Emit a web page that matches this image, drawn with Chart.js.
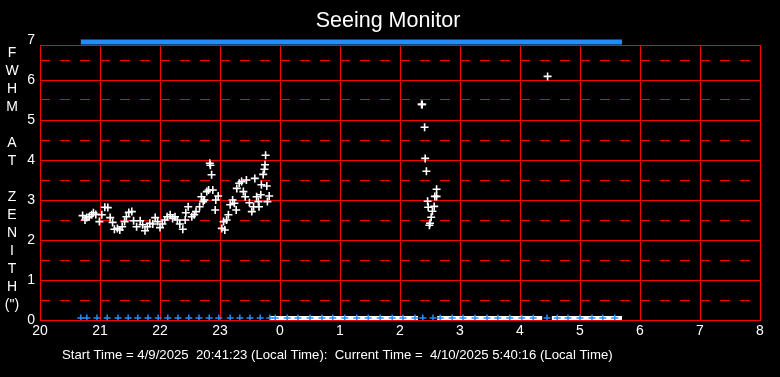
<!DOCTYPE html>
<html>
<head>
  <title>Seeing Monitor</title>
  <script src="https://cdn.jsdelivr.net/npm/chart.js"></script>
  <style>
    body {
      margin: 0;
      background-color: #000;
    }
    .chart-box {
      width: 780px;
      height: 377px;
      position: relative;
    }
  </style>
</head>
<body>
  <div class="chart-box"><canvas id="seeingChart"></canvas></div>

  <script>
    // FWHM readings (hours since midnight of 4/9, >24 = next day)
    const fwhmHours = [
      20.71, 20.75, 20.78, 20.82, 20.86, 20.89, 20.93, 20.99, 21.03, 21.08,
      21.13, 21.17, 21.21, 21.24, 21.29, 21.33, 21.37, 21.41, 21.44, 21.48,
      21.53, 21.56, 21.61, 21.67, 21.71, 21.75, 21.79, 21.83, 21.88, 21.92,
      21.96, 22.00, 22.04, 22.08, 22.12, 22.17, 22.21, 22.25, 22.29, 22.33,
      22.38, 22.42, 22.43, 22.47, 22.53, 22.57, 22.60, 22.66, 22.69, 22.72,
      22.74, 22.78, 22.81, 22.83, 22.84, 22.86, 22.88, 22.92, 22.93, 22.97,
      23.03, 23.06, 23.08, 23.11, 23.14, 23.17, 23.21, 23.24, 23.27, 23.28,
      23.32, 23.36, 23.39, 23.42, 23.44, 23.49, 23.53, 23.56, 23.58, 23.61,
      23.64, 23.65, 23.68, 23.69, 23.72, 23.74, 23.75, 23.76, 23.78, 23.79,
      23.82,
      26.36, 26.37, 26.41, 26.42, 26.44, 26.46, 26.47, 26.49, 26.50, 26.52,
      26.54, 26.57, 26.58, 26.61, 26.61,
      28.46
    ];
    const fwhmValues = [
      2.61, 2.50, 2.56, 2.58, 2.63, 2.68, 2.64, 2.46, 2.63, 2.82,
      2.81, 2.56, 2.44, 2.27, 2.29, 2.25, 2.33, 2.46, 2.58, 2.69,
      2.71, 2.48, 2.33, 2.48, 2.38, 2.23, 2.33, 2.42, 2.40, 2.56,
      2.46, 2.31, 2.40, 2.50, 2.58, 2.63, 2.54, 2.58, 2.50, 2.40,
      2.27, 2.50, 2.68, 2.83, 2.58, 2.63, 2.71, 2.83, 3.08, 2.96,
      3.00, 3.21, 3.25, 3.92, 3.87, 3.63, 3.25, 2.75, 3.00, 3.10,
      2.29, 2.46, 2.25, 2.50, 2.63, 2.88, 3.00, 2.92, 2.75, 3.29,
      3.42, 3.46, 3.21, 3.08, 3.50, 2.93, 2.71, 2.83, 3.54, 3.08,
      2.96, 2.83, 3.13, 3.38, 3.64, 3.77, 3.88, 4.12, 3.35, 2.96,
      3.10,
      5.39, 5.39, 4.82, 4.04, 3.72, 2.97, 2.82, 2.37, 2.42, 2.57,
      2.72, 2.84, 3.09, 3.09, 3.27,
      6.09
    ];

    // status rows
    const topBandHours = [20.68, 29.70];
    const topBandLevel = 6.95;
    const lowBandStarts = [23.83, 26.62, 28.53];
    const lowBandEnds = [26.30, 28.37, 29.70];
    const lowLevel = 0.05;
    const lowBlueHours = [
      20.68, 20.78, 20.95, 21.12, 21.30, 21.47, 21.63, 21.80, 21.97, 22.13,
      22.30, 22.48, 22.65, 22.82, 22.98, 23.17, 23.33, 23.50, 23.67, 23.83,
      23.92, 24.12, 24.30, 24.50, 24.70, 24.88, 25.08, 25.28, 25.47, 25.67,
      25.87, 26.05, 26.25, 26.38, 26.55, 26.67, 26.87, 27.05, 27.25, 27.45,
      27.63, 27.83, 28.03, 28.22, 28.45, 28.62, 28.80, 29.00, 29.20, 29.38,
      29.58
    ];

    // axes
    const yTickValues = [0, 1, 2, 3, 4, 5, 6, 6.875, 7];
    const yHalfValues = [0.5, 1.5, 2.5, 3.5, 4.5, 5.5, 6.5];
    const frameTop = 6.875;
    const xTickLabels = ['20', '21', '22', '23', '0', '1', '2', '3', '4', '5', '6', '7', '8'];
    const yTitleLetters = ['F', 'W', 'H', 'M', '', 'A', 'T', '', 'Z', 'E', 'N', 'I', 'T', 'H', '(")'];
    const titleText = 'Seeing Monitor';
    const footerText = 'Start Time = 4/9/2025  20:41:23 (Local Time):  Current Time =  4/10/2025 5:40:16 (Local Time)';

    const RED = '#ff0000';
    const BLUE = '#1e8fff';
    const FONT = 'Liberation Sans';

    const lowBandData = [];
    lowBandStarts.forEach((s, i) => {
      lowBandData.push({ x: s, y: lowLevel });
      lowBandData.push({ x: lowBandEnds[i], y: lowLevel });
      lowBandData.push({ x: lowBandEnds[i], y: null });
    });

    // title, stacked y label and footer are drawn straight onto the canvas
    const sideText = {
      id: 'sideText',
      afterDraw(chart) {
        const ctx = chart.ctx;
        ctx.save();
        ctx.fillStyle = '#ffffff';
        ctx.textBaseline = 'middle';
        ctx.textAlign = 'center';
        ctx.font = '21.5px "' + FONT + '"';
        ctx.fillText(titleText, 388, 21);
        ctx.font = '14px "' + FONT + '"';
        yTitleLetters.forEach((s, i) => ctx.fillText(s, 12, 53 + i * 18));
        ctx.textAlign = 'left';
        ctx.font = '13.2px "' + FONT + '"';
        ctx.fillText(footerText, 62, 355);
        ctx.restore();
      }
    };

    new Chart(document.getElementById('seeingChart'), {
      type: 'scatter',
      data: {
        datasets: [
          {
            label: 'low blue',
            data: lowBlueHours.map(h => ({ x: h, y: lowLevel })),
            pointStyle: 'cross',
            pointRadius: 3.5,
            borderColor: BLUE,
            borderWidth: 1.5
          },
          {
            label: 'low band',
            data: lowBandData,
            showLine: true,
            spanGaps: false,
            borderColor: '#ffffff',
            borderWidth: 4,
            pointRadius: 0
          },
          {
            label: 'FWHM',
            data: fwhmHours.map((h, i) => ({ x: h, y: fwhmValues[i] })),
            pointStyle: 'cross',
            pointRadius: 4,
            borderColor: '#ffffff',
            borderWidth: 1.6
          },
          {
            label: 'top band',
            data: topBandHours.map(h => ({ x: h, y: topBandLevel })),
            showLine: true,
            borderColor: BLUE,
            borderWidth: 5,
            pointRadius: 0,
            clip: false
          }
        ]
      },
      options: {
        responsive: true,
        maintainAspectRatio: false,
        animation: false,
        layout: { padding: { left: 0, right: 20, top: 45, bottom: 0 } },
        plugins: {
          legend: { display: false },
          tooltip: { enabled: false },
          title: { display: false }
        },
        scales: {
          x: {
            type: 'linear',
            min: 20,
            max: 32,
            afterFit: s => { s.height = 57; },
            ticks: {
              stepSize: 1,
              autoSkip: false,
              maxRotation: 0,
              padding: 3,
              color: '#ffffff',
              font: { family: FONT, size: 14 },
              callback: (v, i) => xTickLabels[i]
            },
            grid: { color: RED, lineWidth: 1, drawTicks: false },
            border: { color: RED }
          },
          y: {
            type: 'linear',
            min: 0,
            max: frameTop,
            afterBuildTicks: s => { s.ticks = yTickValues.map(v => ({ value: v })); },
            afterFit: s => { s.width = 40; },
            ticks: {
              autoSkip: false,
              padding: 5,
              color: '#ffffff',
              font: { family: FONT, size: 14 },
              callback: v => Number.isInteger(v) ? String(v) : ''
            },
            grid: {
              color: c => (c.tick && c.tick.value === 7) ? 'rgba(0,0,0,0)' : RED,
              lineWidth: 1,
              drawTicks: false
            },
            border: { color: RED }
          },
          yHalf: {
            type: 'linear',
            position: 'left',
            min: 0,
            max: frameTop,
            afterBuildTicks: s => { s.ticks = yHalfValues.map(v => ({ value: v })); },
            afterFit: s => { s.width = 0; },
            ticks: { display: false },
            grid: { color: RED, lineWidth: 1, drawTicks: false },
            border: { display: false, dash: [10, 10] }
          }
        }
      },
      plugins: [sideText]
    });
  </script>
</body>
</html>
